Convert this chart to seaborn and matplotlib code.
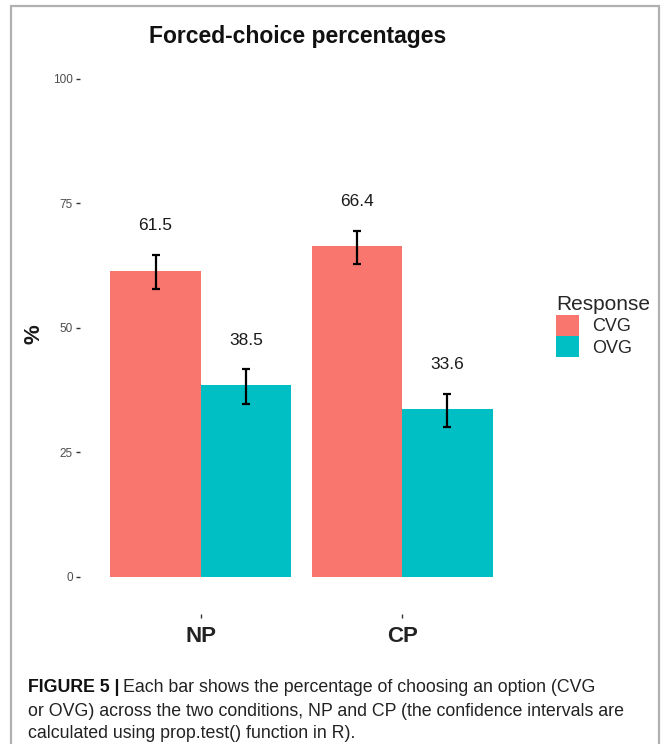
import matplotlib
matplotlib.use("Agg")
import matplotlib.pyplot as plt
import seaborn as sns
import pandas as pd
from matplotlib.patches import Rectangle, Patch

# ---- data ----
conditions = ["NP", "CP"]
responses = ["CVG", "OVG"]
cvg_pct = [61.5, 66.4]
ovg_pct = [38.5, 33.6]
cvg_ci_low = [57.8, 62.9]
cvg_ci_high = [64.7, 69.5]
ovg_ci_low = [34.7, 30.1]
ovg_ci_high = [41.8, 36.7]
yticks = [0, 25, 50, 75, 100]
palette = {"CVG": "#F8766D", "OVG": "#00BFC4"}

df = pd.DataFrame({
    "Condition": conditions * 2,
    "Response": ["CVG"] * 2 + ["OVG"] * 2,
    "pct": cvg_pct + ovg_pct,
    "lo": cvg_ci_low + ovg_ci_low,
    "hi": cvg_ci_high + ovg_ci_high,
})

sns.set_theme(style="white")
plt.rcParams["font.family"] = ["Liberation Sans", "DejaVu Sans"]

fig = plt.figure(figsize=(6.64, 7.44), dpi=100)
W, H = 664, 744

# outer frame
fig.add_artist(Rectangle((11 / W, -0.01), (659 - 11) / W, (H - 6) / H + 0.01,
                         transform=fig.transFigure, fill=False,
                         edgecolor="#b0b0b0", linewidth=1.6))

ax = fig.add_axes([80 / W, (H - 614) / H, (523 - 80) / W, (614 - 54) / H])
sns.barplot(data=df, x="Condition", y="pct", hue="Response", order=conditions,
            hue_order=responses, palette=palette, width=0.9, gap=0,
            errorbar=None, saturation=1, ax=ax, legend=False, linewidth=0)

# error bars and value labels using the bar geometry from seaborn
bars = [p for p in ax.patches if p.get_height() > 0]
for p in bars:
    cx = p.get_x() + p.get_width() / 2
    val = p.get_height()
    row = df[(df["pct"] == val)].iloc[0]
    ax.errorbar(cx, val, yerr=[[val - row["lo"]], [row["hi"] - val]],
                fmt="none", ecolor="black", elinewidth=1.6, capsize=3,
                capthick=1.6)
    ax.text(cx, val + 9, f"{val:.1f}", ha="center", va="center",
            fontsize=12.5, color="#1a1a1a")

ax.set_xlim(-0.6, 1.6)
ax.set_ylim(-7.5, 105)
ax.set_yticks(yticks)
ax.set_yticklabels([str(t) for t in yticks], fontsize=8.5, color="#4d4d4d")
ax.set_xticks([0, 1])
ax.set_xticklabels(conditions, fontsize=16, fontweight="bold", color="#222222")
ax.tick_params(axis="both", which="both", length=3, width=1, color="#333333",
               left=True, bottom=True, direction="out", pad=2)
ax.tick_params(axis="x", pad=6)
for s in ax.spines.values():
    s.set_visible(False)
ax.set_xlabel("")
ax.set_ylabel("%", fontsize=16, fontweight="bold", color="#1a1a1a", labelpad=6)
ax.grid(False)

# title
fig.text(298 / W, 1 - 37 / H, "Forced-choice percentages", ha="center",
         va="center", fontsize=16.5, fontweight="bold", color="#111111")

# legend
handles = [Patch(facecolor=palette[r], edgecolor="none", label=r) for r in responses]
leg = fig.legend(handles=handles, title="Response", loc="center left",
                 bbox_to_anchor=(547 / W, 1 - 326 / H), frameon=False,
                 fontsize=13, title_fontsize=15, handlelength=1.25,
                 handleheight=1.35, handletextpad=0.75, labelspacing=0.05,
                 borderpad=0)
leg._legend_box.align = "left"

# caption
cap_family = ["Liberation Sans", "DejaVu Sans"]
cap_fs = 12.8
x0 = 28 / W
t = fig.text(x0, 1 - 688 / H, "FIGURE 5 |", fontsize=cap_fs, fontweight="bold",
             family=cap_family, va="center", ha="left", color="#111111")
fig.canvas.draw()
bb = t.get_window_extent()
fig.text(bb.x1 / W + 4 / W, 1 - 688 / H,
         "Each bar shows the percentage of choosing an option (CVG",
         fontsize=cap_fs, family=cap_family, va="center", ha="left", color="#222222")
fig.text(x0, 1 - 711 / H,
         "or OVG) across the two conditions, NP and CP (the confidence intervals are",
         fontsize=cap_fs, family=cap_family, va="center", ha="left", color="#222222")
fig.text(x0, 1 - 734 / H,
         "calculated using prop.test() function in R).",
         fontsize=cap_fs, family=cap_family, va="center", ha="left", color="#222222")

fig.savefig("out.png", dpi=100)
